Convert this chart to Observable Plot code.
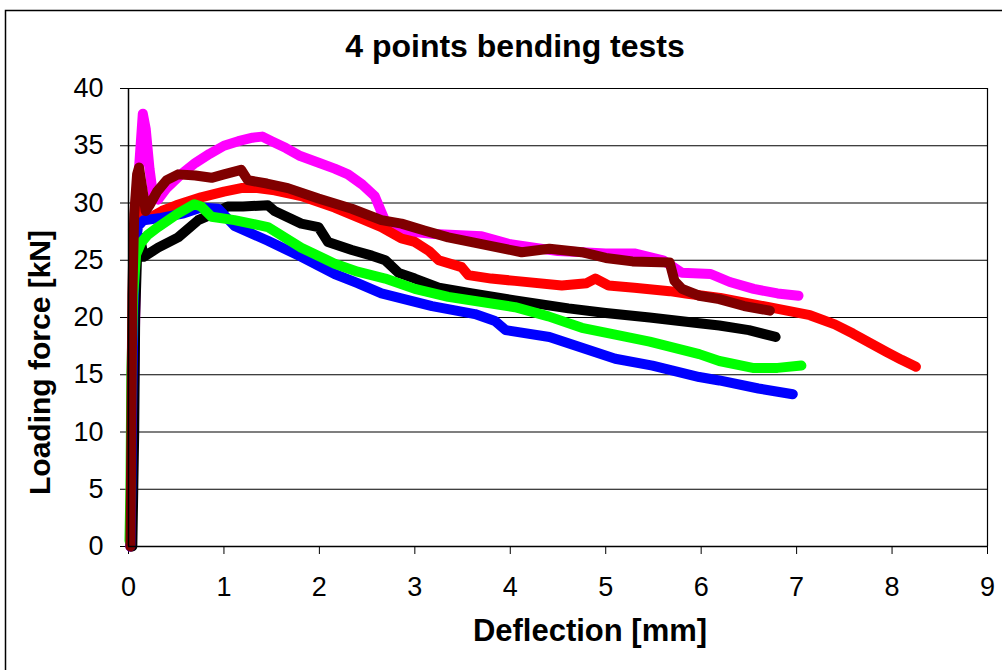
<!DOCTYPE html>
<html>
<head>
<meta charset="utf-8">
<script src="https://cdn.jsdelivr.net/npm/d3@7"></script>
<script src="https://cdn.jsdelivr.net/npm/@observablehq/plot@0.6"></script>
<style>
  html, body { margin: 0; padding: 0; background: #fff; }
  #chart { width: 1002px; height: 670px; overflow: hidden; }
</style>
</head>
<body>
<div id="chart"></div>
<script>
const titleText = "4 points bending tests";
const xLabel = "Deflection [mm]";
const yLabel = "Loading force [kN]";
const xTicks = [0, 1, 2, 3, 4, 5, 6, 7, 8, 9];
const yTicks = [0, 5, 10, 15, 20, 25, 30, 35, 40];

// [deflection mm, force kN]
const magenta = [[0.02,0],[0.05,10],[0.08,25],[0.11,33],[0.15,37.8],[0.18,36.5],[0.22,33],[0.26,30.5],[0.31,30.3],[0.4,31.3],[0.55,32.5],[0.7,33.5],[0.85,34.3],[1.0,35.0],[1.15,35.4],[1.3,35.7],[1.4,35.8],[1.5,35.4],[1.65,34.8],[1.8,34.1],[2.0,33.5],[2.16,33.0],[2.3,32.5],[2.45,31.6],[2.58,30.6],[2.65,29.2],[2.72,27.8],[2.85,27.6],[3.2,27.3],[3.7,27.1],[4.0,26.4],[4.5,25.8],[5.0,25.6],[5.3,25.6],[5.6,25.0],[5.8,23.9],[6.1,23.8],[6.3,23.1],[6.55,22.5],[6.8,22.1],[7.02,21.9]];
const red = [[0.03,0],[0.05,12],[0.06,20],[0.08,26],[0.1,29.5],[0.13,31.0],[0.16,29.0],[0.22,28.7],[0.35,29.3],[0.5,29.8],[0.76,30.5],[1.0,31.0],[1.18,31.3],[1.35,31.3],[1.53,31.1],[1.81,30.6],[2.16,29.6],[2.45,28.6],[2.65,27.9],[2.86,26.9],[3.0,26.6],[3.15,25.8],[3.25,25.0],[3.49,24.4],[3.56,23.7],[3.8,23.4],[4.05,23.2],[4.54,22.8],[4.8,23.0],[4.89,23.4],[5.03,22.8],[5.3,22.6],[5.67,22.3],[5.84,22.1],[6.2,21.7],[6.71,20.9],[7.14,20.2],[7.4,19.4],[7.59,18.6],[7.94,17.0],[8.1,16.3],[8.25,15.7]];
const black = [[0.04,0],[0.06,10],[0.07,20],[0.09,25.5],[0.12,27.0],[0.16,25.3],[0.31,26.1],[0.52,27.0],[0.73,28.5],[0.87,29.0],[1.04,29.7],[1.2,29.7],[1.46,29.8],[1.53,29.3],[1.81,28.2],[1.99,27.9],[2.09,26.6],[2.34,25.9],[2.55,25.4],[2.69,25.0],[2.83,23.9],[3.0,23.4],[3.25,22.6],[3.6,22.1],[4.05,21.5],[4.61,20.8],[5.0,20.4],[5.46,20.0],[5.98,19.5],[6.19,19.3],[6.5,18.9],[6.78,18.3]];
const blue = [[0.02,0],[0.03,5],[0.035,10],[0.05,20],[0.07,26],[0.1,28.0],[0.16,28.5],[0.34,28.7],[0.58,29.1],[0.76,29.6],[0.94,29.5],[1.11,28.0],[1.46,26.7],[1.81,25.3],[2.16,23.8],[2.4,23.0],[2.65,22.1],[3.18,21.0],[3.63,20.3],[3.84,19.7],[3.95,18.9],[4.41,18.3],[5.1,16.4],[5.49,15.8],[5.98,14.8],[6.19,14.5],[6.6,13.8],[6.96,13.3]];
const green = [[0.01,0.5],[0.02,5],[0.03,15],[0.05,22],[0.08,25.5],[0.13,26.5],[0.2,27.2],[0.31,27.9],[0.52,29.1],[0.69,29.9],[0.76,29.7],[0.87,28.8],[1.11,28.5],[1.46,27.9],[1.81,26.1],[2.16,24.7],[2.4,24.0],[2.69,23.4],[3.0,22.5],[3.35,21.8],[4.05,20.9],[4.4,20.1],[4.75,19.1],[5.1,18.5],[5.46,17.9],[5.98,16.8],[6.19,16.2],[6.54,15.6],[6.8,15.6],[7.05,15.8]];
const brown = [[0.02,0],[0.03,10],[0.04,22],[0.06,29],[0.09,32.5],[0.11,33.1],[0.14,31.5],[0.18,29.3],[0.22,29.8],[0.3,31.0],[0.4,32.0],[0.52,32.5],[0.7,32.4],[0.87,32.2],[1.0,32.5],[1.18,32.9],[1.25,32.0],[1.45,31.7],[1.67,31.3],[1.99,30.4],[2.34,29.5],[2.65,28.5],[2.86,28.2],[3.1,27.6],[3.35,27.0],[3.7,26.4],[4.12,25.7],[4.41,26.0],[4.75,25.7],[5.0,25.2],[5.28,24.9],[5.67,24.8],[5.72,23.2],[5.8,22.5],[5.98,21.9],[6.19,21.6],[6.45,21.0],[6.72,20.6]];

const series = [
  {data: magenta, color: "#ff00ff"},
  {data: red, color: "#ff0000"},
  {data: black, color: "#000000"},
  {data: blue, color: "#0000ff"},
  {data: green, color: "#00ff00"},
  {data: brown, color: "#800000"}
];

const lineMarks = series.map(s => Plot.line(s.data, {
  x: d => d[0], y: d => d[1], stroke: s.color, strokeWidth: 10,
  strokeLinejoin: "round", strokeLinecap: "round"
}));

const chart = Plot.plot({
  width: 1002,
  height: 670,
  marginLeft: 128,
  marginRight: 15,
  marginTop: 88,
  marginBottom: 124,
  style: {fontFamily: "'Liberation Sans', Arial, sans-serif", background: "#fff", color: "#000"},
  x: {domain: [0, 9]},
  y: {domain: [0, 40]},
  marks: [
    Plot.gridY(yTicks, {stroke: "#000", strokeOpacity: 1, strokeWidth: 1.2}),
    Plot.ruleX([9], {stroke: "#000", strokeWidth: 1.2}),
    Plot.axisX(xTicks, {tickSize: 8, tickPadding: 22, fontSize: 27, label: null, stroke: "#000"}),
    Plot.axisY(yTicks, {tickSize: 8, tickPadding: 17, fontSize: 27, label: null, stroke: "#000"}),
    ...lineMarks,
    Plot.ruleX([0], {stroke: "#000", strokeWidth: 1.5}),
    Plot.ruleY([0], {stroke: "#000", strokeWidth: 1.5}),
    Plot.text([titleText], {frameAnchor: "top", lineAnchor: "middle", dx: -43, dy: -42, fontSize: 32, fontWeight: "bold", fill: "#000"}),
    Plot.text([xLabel], {frameAnchor: "bottom", lineAnchor: "middle", dx: 32, dy: 85, fontSize: 31, fontWeight: "bold", fill: "#000"}),
    Plot.text([yLabel], {frameAnchor: "left", textAnchor: "middle", lineAnchor: "middle", dx: -88, dy: 45, rotate: -90, fontSize: 30, fontWeight: "bold", fill: "#000"})
  ]
});

d3.select(chart).append("rect")
  .attr("x", 5.5).attr("y", 10.5).attr("width", 1010).attr("height", 680)
  .attr("fill", "none").attr("stroke", "#000").attr("stroke-width", 1.5);

document.getElementById("chart").appendChild(chart);
</script>
</body>
</html>
